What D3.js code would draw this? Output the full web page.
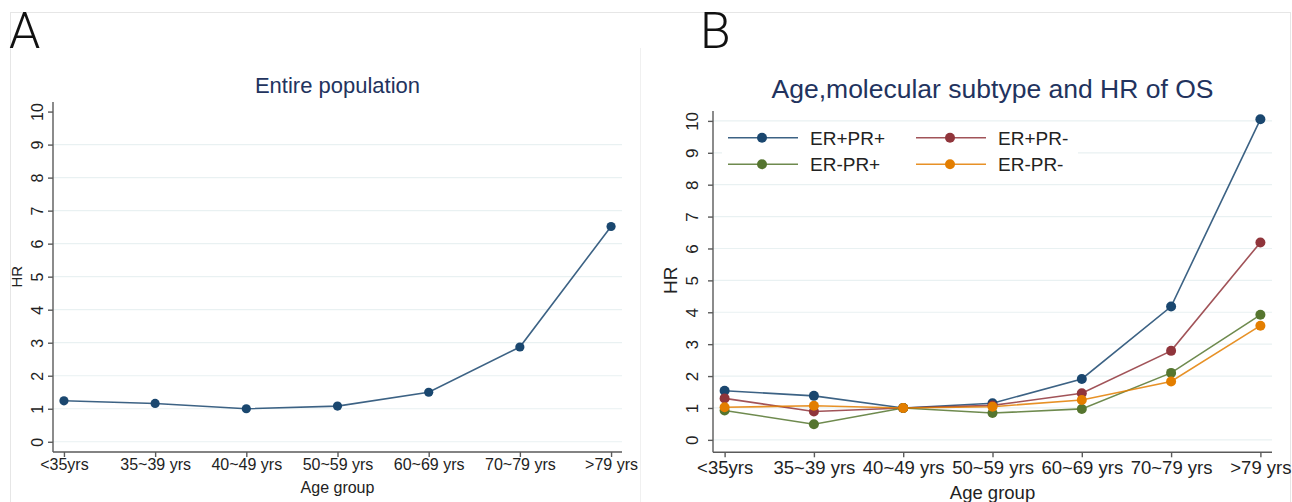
<!DOCTYPE html>
<meta charset="UTF-8">
<style>
body { margin: 0; background: #fff; font-family: "Liberation Sans", Arial, sans-serif; }
.grid line { stroke: #e9f1f2; stroke-width: 1.2px; }
.axis path, .axis line { stroke: #5a5a5a; stroke-width: 1.4px; }
.axis text { fill: #222; }
.title { fill: #22335e; }
.series { fill: none; stroke-width: 1.6px; }
</style>
<body>
<script src="https://d3js.org/d3.v7.min.js"></script>
<script>

// age groups on the x axis
var ageGroups = ["<35yrs", "35~39 yrs", "40~49 yrs", "50~59 yrs", "60~69 yrs", "70~79 yrs", ">79 yrs"];
var hrTicks = [0, 1, 2, 3, 4, 5, 6, 7, 8, 9, 10];

// panel A: whole population
var hrEntire = [1.24, 1.16, 1.0, 1.08, 1.50, 2.87, 6.52];

// panel B: by molecular subtype
var subtypes = ["ER+PR+", "ER+PR-", "ER-PR+", "ER-PR-"];
var subtypeColors = ["#1a476f", "#90353b", "#55752f", "#e37e00"];
var hrErPosPrPos = [1.54, 1.38, 1.0, 1.15, 1.91, 4.18, 10.05];
var hrErPosPrNeg = [1.30, 0.89, 1.0, 1.08, 1.46, 2.79, 6.19];
var hrErNegPrPos = [0.92, 0.49, 1.0, 0.84, 0.97, 2.10, 3.92];
var hrErNegPrNeg = [1.02, 1.07, 1.0, 1.04, 1.25, 1.83, 3.58];
var subtypeValues = [hrErPosPrPos, hrErPosPrNeg, hrErNegPrPos, hrErNegPrNeg];

var svg = d3.select("body").append("svg")
    .attr("width", 1292)
    .attr("height", 502);

// faint frame round the figure
var frame = svg.append("g").attr("stroke", "#e6e6e6").attr("stroke-width", 1);
frame.append("line").attr("x1", 10).attr("x2", 1290).attr("y1", 12.5).attr("y2", 12.5);
frame.append("line").attr("x1", 10.5).attr("x2", 10.5).attr("y1", 12).attr("y2", 502);
frame.append("line").attr("x1", 1290.5).attr("x2", 1290.5).attr("y1", 12).attr("y2", 502);
frame.append("line").attr("x1", 640.5).attr("x2", 640.5).attr("y1", 48).attr("y2", 502).attr("stroke", "#f0f0f0");

function panel(opt) {
  var x = d3.scalePoint().domain(ageGroups).range([opt.left, opt.right]).padding(opt.pad);
  var y = d3.scaleLinear().domain(opt.ydom).range([opt.bottom, opt.top]);
  var g = svg.append("g");

  // gridlines
  g.append("g").attr("class", "grid")
    .selectAll("line")
    .data(hrTicks.filter(function(d) { return d <= opt.gridMax; }))
    .enter().append("line")
      .attr("x1", opt.left).attr("x2", opt.right)
      .attr("y1", function(d) { return y(d); })
      .attr("y2", function(d) { return y(d); });

  // y axis, labels turned on their side
  var ya = g.append("g").attr("class", "axis")
      .attr("transform", "translate(" + opt.left + ",0)")
      .call(d3.axisLeft(y).tickValues(hrTicks).tickSize(5).tickSizeOuter(0));
  ya.selectAll("text")
      .attr("transform", "rotate(-90)")
      .attr("x", 0)
      .attr("y", -opt.ylabGap)
      .attr("dy", 0)
      .attr("text-anchor", "middle")
      .style("font-size", opt.yfont + "px")
      .style("font-family", "Liberation Sans, Arial, sans-serif");

  // x axis
  var xa = g.append("g").attr("class", "axis")
      .attr("transform", "translate(0," + opt.bottom + ")")
      .call(d3.axisBottom(x).tickSize(5).tickSizeOuter(0));
  xa.selectAll("text")
      .attr("y", opt.xlabY)
      .attr("dy", 0)
      .style("font-size", opt.xfont + "px")
      .style("font-family", "Liberation Sans, Arial, sans-serif");
  xa.select(".domain").attr("d", "M" + opt.left + ",0H" + opt.right);
  ya.select(".domain").attr("d", "M0," + opt.top + "V" + opt.bottom);

  // axis titles
  g.append("text")
      .attr("x", (opt.left + opt.right) / 2).attr("y", opt.xtitleY)
      .attr("text-anchor", "middle").attr("fill", "#222")
      .style("font-size", opt.xfont + "px")
      .text("Age group");
  g.append("text")
      .attr("transform", "translate(" + opt.ytitleX + "," + ((y(0) + y(10)) / 2) + ") rotate(-90)")
      .attr("text-anchor", "middle").attr("fill", "#222")
      .style("font-size", opt.ytitleFont + "px")
      .text("HR");

  // chart title
  g.append("text").attr("class", "title")
      .attr("x", (opt.left + opt.right) / 2).attr("y", opt.titleY)
      .attr("text-anchor", "middle")
      .style("font-size", opt.titleFont + "px")
      .text(opt.title);

  // panel letter
  g.append("text")
      .attr("x", opt.letterX).attr("y", 48)
      .attr("fill", "#111")
      .style("font-family", "Roboto, sans-serif")
      .style("font-weight", 300)
      .style("font-size", "50px")
      .text(opt.letter);

  return {g: g, x: x, y: y};
}

function drawSeries(p, values, color, r) {
  var line = d3.line()
      .x(function(d, i) { return p.x(ageGroups[i]); })
      .y(function(d) { return p.y(d); });
  p.g.append("path").attr("class", "series")
      .datum(values)
      .attr("d", line)
      .attr("stroke", color)
      .attr("stroke-opacity", 0.85);
  p.g.append("g").selectAll("circle")
      .data(values)
      .enter().append("circle")
      .attr("cx", function(d, i) { return p.x(ageGroups[i]); })
      .attr("cy", function(d) { return p.y(d); })
      .attr("r", r)
      .attr("fill", color);
}

// ---- panel A
var pa = panel({
  left: 53, right: 622, pad: 0.12, top: 102, bottom: 452, ydom: [-0.31, 10.29],
  gridMax: 9, yfont: 16, ylabGap: 10, xfont: 16, xlabY: 18, xtitleY: 493,
  ytitleX: 22, ytitleFont: 15, title: "Entire population", titleY: 93, titleFont: 22,
  letter: "A", letterX: 9
});
drawSeries(pa, hrEntire, "#1a476f", 4.6);

// ---- panel B
var pb = panel({
  left: 713, right: 1272, pad: 0.13, top: 111, bottom: 452.3, ydom: [-0.39, 10.31],
  gridMax: 10, yfont: 17, ylabGap: 15, xfont: 18.5, xlabY: 22, xtitleY: 499,
  ytitleX: 677, ytitleFont: 19, title: "Age,molecular subtype and HR of OS", titleY: 98, titleFont: 26.5,
  letter: "B", letterX: 700
});

// legend with white background
var lg = pb.g.append("g");
lg.append("rect").attr("x", 722).attr("y", 124).attr("width", 356).attr("height", 54).attr("fill", "#fff");
var legendPos = [[728, 137.7], [916, 137.7], [728, 164.3], [916, 164.3]];
subtypes.forEach(function(name, i) {
  var lx = legendPos[i][0], ly = legendPos[i][1];
  lg.append("line").attr("x1", lx).attr("x2", lx + 70).attr("y1", ly).attr("y2", ly)
    .attr("stroke", subtypeColors[i]).attr("stroke-width", 1.6).attr("stroke-opacity", 0.85);
  lg.append("circle").attr("cx", lx + 34).attr("cy", ly).attr("r", 5).attr("fill", subtypeColors[i]);
  lg.append("text").attr("x", lx + 82).attr("y", ly + 7)
    .attr("fill", "#222").style("font-size", "19px").text(name);
});

subtypeValues.forEach(function(vals, i) {
  drawSeries(pb, vals, subtypeColors[i], 5);
});

</script>
</body>
